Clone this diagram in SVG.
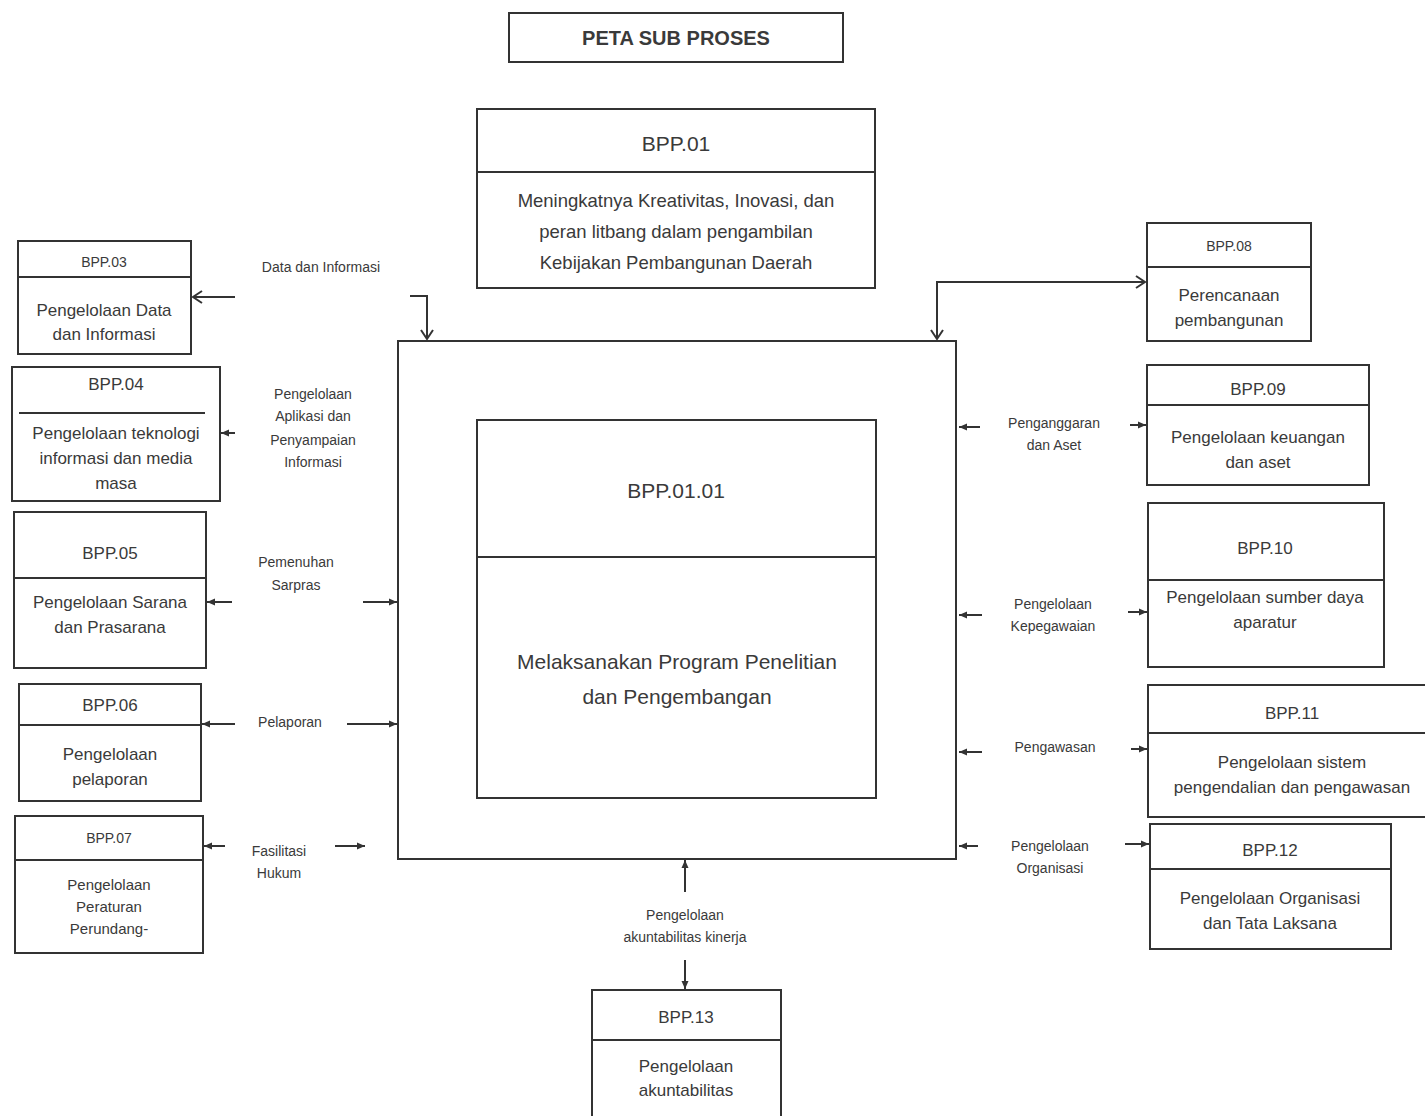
<svg xmlns="http://www.w3.org/2000/svg" width="1425" height="1116" viewBox="0 0 1425 1116">
<style>
.box{fill:#fff;stroke:#333;stroke-width:2}
.div{stroke:#333;stroke-width:2}
.con{fill:none;stroke:#333;stroke-width:2}
text{font-family:"Liberation Sans",Arial,sans-serif;fill:#3a3a3a;text-anchor:middle}
.t{font-size:14px}
.b{font-size:17px}
.lb{font-size:14px}
</style>
<defs>
<marker id="open" markerWidth="14" markerHeight="14" refX="11" refY="7" orient="auto-start-reverse" markerUnits="userSpaceOnUse">
<path d="M2,1 L11,7 L2,13" fill="none" stroke="#333" stroke-width="2"/>
</marker>
<marker id="fill" markerWidth="10" markerHeight="10" refX="9" refY="5" orient="auto" markerUnits="userSpaceOnUse">
<path d="M1,1.5 L9,5 L1,8.5 Z" fill="#333"/>
</marker>
</defs>
<rect width="1425" height="1116" fill="#fff"/>

<g id="title">
<rect class="box" x="509" y="13" width="334" height="49"/>
<text x="676" y="45" style="font-size:20px;font-weight:bold">PETA SUB PROSES</text>
</g>

<g id="bpp01">
<rect class="box" x="477" y="109" width="398" height="179"/>
<line class="div" x1="477" y1="172" x2="875" y2="172"/>
<text x="676" y="151" style="font-size:21px">BPP.01</text>
<text x="676" y="207" style="font-size:18.5px">Meningkatnya Kreativitas, Inovasi, dan</text>
<text x="676" y="238" style="font-size:18.5px">peran litbang dalam pengambilan</text>
<text x="676" y="269" style="font-size:18.5px">Kebijakan Pembangunan Daerah</text>
</g>

<g id="main">
<rect class="box" x="398" y="341" width="558" height="518"/>
<rect class="box" x="477" y="420" width="399" height="378"/>
<line class="div" x1="477" y1="557" x2="876" y2="557"/>
<text x="676" y="498" style="font-size:21px">BPP.01.01</text>
<text x="677" y="669" style="font-size:21px">Melaksanakan Program Penelitian</text>
<text x="677" y="704" style="font-size:21px">dan Pengembangan</text>
</g>

<g id="bpp03">
<rect class="box" x="18" y="241" width="173" height="113"/>
<line class="div" x1="18" y1="277" x2="191" y2="277"/>
<text class="t" x="104" y="267">BPP.03</text>
<text class="b" x="104" y="316">Pengelolaan Data</text>
<text class="b" x="104" y="340">dan Informasi</text>
</g>

<g id="bpp04">
<rect class="box" x="12" y="367" width="208" height="134"/>
<line class="div" x1="19" y1="413" x2="205" y2="413"/>
<text class="b" x="116" y="390">BPP.04</text>
<text class="b" x="116" y="439">Pengelolaan teknologi</text>
<text class="b" x="116" y="464">informasi dan media</text>
<text class="b" x="116" y="489">masa</text>
</g>

<g id="bpp05">
<rect class="box" x="14" y="512" width="192" height="156"/>
<line class="div" x1="14" y1="578" x2="206" y2="578"/>
<text class="b" x="110" y="559">BPP.05</text>
<text class="b" x="110" y="608">Pengelolaan Sarana</text>
<text class="b" x="110" y="633">dan Prasarana</text>
</g>

<g id="bpp06">
<rect class="box" x="19" y="684" width="182" height="117"/>
<line class="div" x1="19" y1="725" x2="201" y2="725"/>
<text class="b" x="110" y="711">BPP.06</text>
<text class="b" x="110" y="760">Pengelolaan</text>
<text class="b" x="110" y="785">pelaporan</text>
</g>

<g id="bpp07">
<rect class="box" x="15" y="816" width="188" height="137"/>
<line class="div" x1="15" y1="860" x2="203" y2="860"/>
<text class="t" x="109" y="843">BPP.07</text>
<text x="109" y="890" style="font-size:15px">Pengelolaan</text>
<text x="109" y="912" style="font-size:15px">Peraturan</text>
<text x="109" y="934" style="font-size:15px">Perundang-</text>
</g>

<g id="bpp08">
<rect class="box" x="1147" y="223" width="164" height="118"/>
<line class="div" x1="1147" y1="267" x2="1311" y2="267"/>
<text class="t" x="1229" y="251">BPP.08</text>
<text class="b" x="1229" y="301">Perencanaan</text>
<text class="b" x="1229" y="326">pembangunan</text>
</g>

<g id="bpp09">
<rect class="box" x="1147" y="365" width="222" height="120"/>
<line class="div" x1="1147" y1="405" x2="1369" y2="405"/>
<text class="b" x="1258" y="395">BPP.09</text>
<text class="b" x="1258" y="443">Pengelolaan keuangan</text>
<text class="b" x="1258" y="468">dan aset</text>
</g>

<g id="bpp10">
<rect class="box" x="1148" y="503" width="236" height="164"/>
<line class="div" x1="1148" y1="580" x2="1384" y2="580"/>
<text class="b" x="1265" y="554">BPP.10</text>
<text class="b" x="1265" y="603">Pengelolaan sumber daya</text>
<text class="b" x="1265" y="628">aparatur</text>
</g>

<g id="bpp11">
<rect class="box" x="1148" y="685" width="280" height="132"/>
<line class="div" x1="1148" y1="733" x2="1425" y2="733"/>
<text class="b" x="1292" y="719">BPP.11</text>
<text class="b" x="1292" y="768">Pengelolaan sistem</text>
<text class="b" x="1292" y="793">pengendalian dan pengawasan</text>
</g>

<g id="bpp12">
<rect class="box" x="1150" y="824" width="241" height="125"/>
<line class="div" x1="1150" y1="869" x2="1391" y2="869"/>
<text class="b" x="1270" y="856">BPP.12</text>
<text class="b" x="1270" y="904">Pengelolaan Organisasi</text>
<text class="b" x="1270" y="929">dan Tata Laksana</text>
</g>

<g id="bpp13">
<rect class="box" x="592" y="990" width="189" height="130"/>
<line class="div" x1="592" y1="1040" x2="781" y2="1040"/>
<text class="b" x="686" y="1023">BPP.13</text>
<text class="b" x="686" y="1072">Pengelolaan</text>
<text class="b" x="686" y="1096">akuntabilitas</text>
</g>

<g id="connectors">
<line class="con" x1="235" y1="297" x2="193" y2="297" marker-end="url(#open)"/>
<polyline class="con" points="410,296 427,296 427,339" marker-end="url(#open)"/>
<line class="con" x1="235" y1="433" x2="221" y2="433" marker-end="url(#fill)"/>
<line class="con" x1="232" y1="602" x2="207" y2="602" marker-end="url(#fill)"/>
<line class="con" x1="363" y1="602" x2="397" y2="602" marker-end="url(#fill)"/>
<line class="con" x1="235" y1="724" x2="202" y2="724" marker-end="url(#fill)"/>
<line class="con" x1="347" y1="724" x2="397" y2="724" marker-end="url(#fill)"/>
<line class="con" x1="225" y1="846" x2="204" y2="846" marker-end="url(#fill)"/>
<line class="con" x1="335" y1="846" x2="365" y2="846" marker-end="url(#fill)"/>
<polyline class="con" points="937,339 937,282 1145,282" marker-start="url(#open)" marker-end="url(#open)"/>
<line class="con" x1="980" y1="427" x2="959" y2="427" marker-end="url(#fill)"/>
<line class="con" x1="1130" y1="425" x2="1146" y2="425" marker-end="url(#fill)"/>
<line class="con" x1="982" y1="615" x2="959" y2="615" marker-end="url(#fill)"/>
<line class="con" x1="1128" y1="612" x2="1147" y2="612" marker-end="url(#fill)"/>
<line class="con" x1="982" y1="752" x2="959" y2="752" marker-end="url(#fill)"/>
<line class="con" x1="1131" y1="749" x2="1147" y2="749" marker-end="url(#fill)"/>
<line class="con" x1="978" y1="846" x2="959" y2="846" marker-end="url(#fill)"/>
<line class="con" x1="1125" y1="844" x2="1149" y2="844" marker-end="url(#fill)"/>
<line class="con" x1="685" y1="892" x2="685" y2="860" marker-end="url(#fill)"/>
<line class="con" x1="685" y1="960" x2="685" y2="989" marker-end="url(#fill)"/>
<text class="lb" x="321" y="272">Data dan Informasi</text>
<text class="lb" x="313" y="399">Pengelolaan</text>
<text class="lb" x="313" y="421">Aplikasi dan</text>
<text class="lb" x="313" y="445">Penyampaian</text>
<text class="lb" x="313" y="467">Informasi</text>
<text class="lb" x="296" y="567">Pemenuhan</text>
<text class="lb" x="296" y="590">Sarpras</text>
<text class="lb" x="290" y="727">Pelaporan</text>
<text class="lb" x="279" y="856">Fasilitasi</text>
<text class="lb" x="279" y="878">Hukum</text>
<text class="lb" x="1054" y="428">Penganggaran</text>
<text class="lb" x="1054" y="450">dan Aset</text>
<text class="lb" x="1053" y="609">Pengelolaan</text>
<text class="lb" x="1053" y="631">Kepegawaian</text>
<text class="lb" x="1055" y="752">Pengawasan</text>
<text class="lb" x="1050" y="851">Pengelolaan</text>
<text class="lb" x="1050" y="873">Organisasi</text>
<text class="lb" x="685" y="920">Pengelolaan</text>
<text class="lb" x="685" y="942">akuntabilitas kinerja</text>
</g>
</svg>
